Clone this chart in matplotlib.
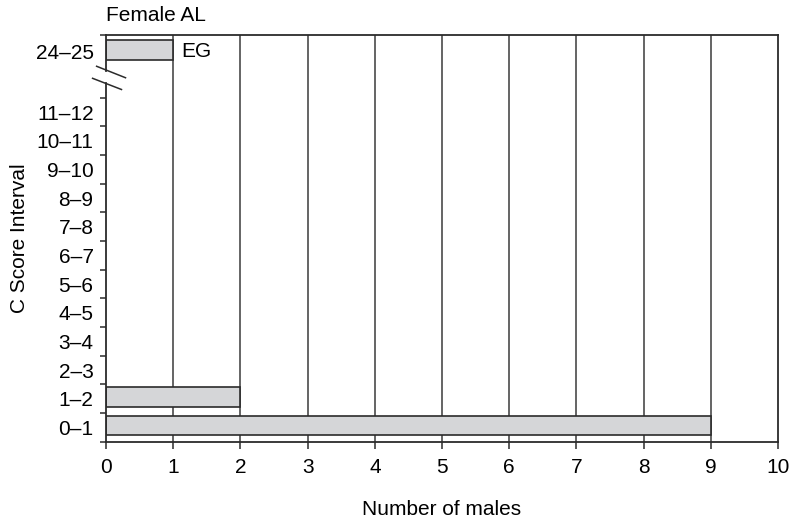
import matplotlib
matplotlib.use("Agg")
import matplotlib.pyplot as plt

plt.rcParams["font.family"] = ["Liberation Sans", "DejaVu Sans"]

# C score intervals (lower block 0-12, then the broken-axis block at 24-25)
intervals = ["0–1", "1–2", "2–3", "3–4", "4–5", "5–6", "6–7", "7–8",
             "8–9", "9–10", "10–11", "11–12", "24–25"]
slots = [0, 1, 2, 3, 4, 5, 6, 7, 8, 9, 10, 11, 13.1]
males = [9, 2, 0, 0, 0, 0, 0, 0, 0, 0, 0, 0, 1]
bar_notes = {"24–25": "EG"}

x_ticks = list(range(0, 11))
y_top = 14.19
fs = 15

fig = plt.figure(figsize=(7.96, 5.23), dpi=100)
ax = fig.add_axes([0.1332, 0.1554, 0.8442, 0.7776])

line_col = "#2b2b2b"
grid_col = "#3a3a3a"

# vertical grid lines behind the bars
for xv in x_ticks[1:-1]:
    ax.plot([xv, xv], [0, y_top], color=grid_col, lw=1.1, zorder=0)

for lab, s, v in zip(intervals, slots, males):
    if v > 0:
        ax.barh(s + 0.56, v, height=0.68, color="#d5d6d8",
                edgecolor=line_col, linewidth=1.2, zorder=2)
    if lab in bar_notes:
        ax.text(v + 0.12, s + 0.5, bar_notes[lab], fontsize=fs,
                ha="left", va="center")

ax.set_xlim(0, 10)
ax.set_ylim(0, y_top)

# left spine drawn in two pieces around the axis break
ax.spines["left"].set_visible(False)
for sp in ["top", "right", "bottom"]:
    ax.spines[sp].set_linewidth(1.3)
    ax.spines[sp].set_color(line_col)
ax.plot([0, 0], [0, 12.5], color=line_col, lw=1.3, clip_on=False, zorder=3)
ax.plot([0, 0], [12.95, y_top], color=line_col, lw=1.3, clip_on=False, zorder=3)

# break marks
ax.plot([-0.14, 0.29], [13.10, 12.70], color=line_col, lw=1.1, clip_on=False)
ax.plot([-0.20, 0.23], [12.68, 12.29], color=line_col, lw=1.1, clip_on=False)

ax.set_xticks(x_ticks)
ax.set_xticklabels([str(t) for t in x_ticks], fontsize=fs)
ax.tick_params(axis="x", direction="out", length=5, width=1.1,
               color=line_col, pad=7)

ax.set_yticks(list(range(0, 13)) + [y_top])
ax.set_yticklabels([])
ax.set_yticks([s + 0.5 for s in slots], minor=True)
ax.set_yticklabels(intervals, minor=True, fontsize=fs)
ax.tick_params(axis="y", which="major", direction="out", length=4.5,
               width=1.1, color=line_col)
ax.tick_params(axis="y", which="minor", length=0, pad=9)

ax.set_title("Female AL", loc="left", fontsize=fs, pad=10)
ax.set_xlabel("Number of males", fontsize=fs, labelpad=16)
ax.set_ylabel("C Score Interval", fontsize=fs, labelpad=5)

fig.savefig("out.png", dpi=100)
